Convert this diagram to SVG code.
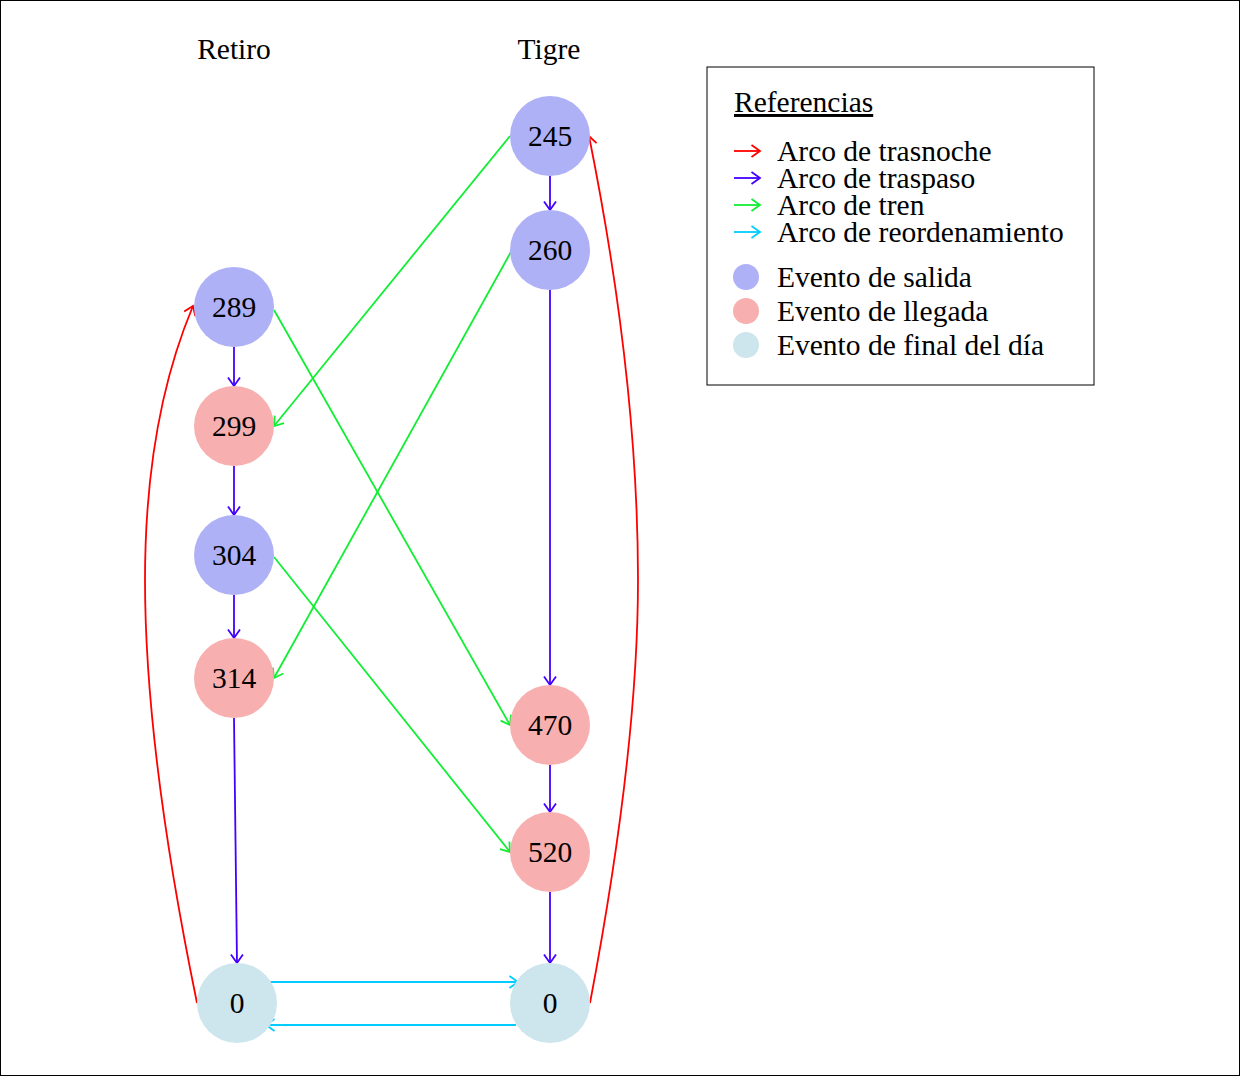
<svg xmlns="http://www.w3.org/2000/svg" width="1240" height="1076" viewBox="0 0 1240 1076">
<style>
text{font-family:"Liberation Serif","Times New Roman",serif;font-size:29.5px;fill:#000}
.n text{text-anchor:middle;dominant-baseline:central}
.sal{fill:#aeb1f6}.lle{fill:#f8afaf}.fin{fill:#cde5ec}
.e{fill:none;stroke-width:1.8}
.r{stroke:#ff0000}.b{stroke:#4400ff}.g{stroke:#11ee33}.c{stroke:#00ccff}
</style>
<defs>
<marker id="mr" markerUnits="userSpaceOnUse" markerWidth="20" markerHeight="20" refX="10" refY="10" orient="auto" overflow="visible"><path d="M1.5,4 L10,10 L1.5,16" fill="none" stroke="#ff0000" stroke-width="1.8"/></marker>
<marker id="mb" markerUnits="userSpaceOnUse" markerWidth="20" markerHeight="20" refX="10" refY="10" orient="auto" overflow="visible"><path d="M1.5,4 L10,10 L1.5,16" fill="none" stroke="#4400ff" stroke-width="1.8"/></marker>
<marker id="mg" markerUnits="userSpaceOnUse" markerWidth="20" markerHeight="20" refX="10" refY="10" orient="auto" overflow="visible"><path d="M1.5,4 L10,10 L1.5,16" fill="none" stroke="#11ee33" stroke-width="1.8"/></marker>
<marker id="mc" markerUnits="userSpaceOnUse" markerWidth="20" markerHeight="20" refX="10" refY="10" orient="auto" overflow="visible"><path d="M1.5,4 L10,10 L1.5,16" fill="none" stroke="#00ccff" stroke-width="1.8"/></marker>
</defs>
<rect x="0.5" y="0.5" width="1239" height="1075" fill="#fff" stroke="#000" stroke-width="1"/>
<text x="234" y="59" text-anchor="middle">Retiro</text>
<text x="549" y="59" text-anchor="middle">Tigre</text>
<g id="connectors">
<path class="e b" d="M550,176 L550,210" marker-end="url(#mb)"/>
<path class="e b" d="M234,347 L234,386" marker-end="url(#mb)"/>
<path class="e b" d="M234,466 L234,515" marker-end="url(#mb)"/>
<path class="e b" d="M234,595 L234,638" marker-end="url(#mb)"/>
<path class="e b" d="M234,718 L237,963" marker-end="url(#mb)"/>
<path class="e b" d="M550,290 L550,685" marker-end="url(#mb)"/>
<path class="e b" d="M550,765 L550,812" marker-end="url(#mb)"/>
<path class="e b" d="M550,892 L550,963" marker-end="url(#mb)"/>
<path class="e g" d="M510,136 L274,426" marker-end="url(#mg)"/>
<path class="e g" d="M512,250 L274,678" marker-end="url(#mg)"/>
<path class="e g" d="M274,310 L510,725" marker-end="url(#mg)"/>
<path class="e g" d="M274,557 L510,852" marker-end="url(#mg)"/>
<path class="e c" d="M268,982 L518,982" marker-end="url(#mc)"/>
<path class="e c" d="M516,1025 L266,1025" marker-end="url(#mc)"/>
<path class="e r" d="M197,1003 Q145,750 145,580 Q145,420 193,306" marker-end="url(#mr)"/>
<path class="e r" d="M590,1003 Q638,750 638,580 Q638,380 589,136" marker-end="url(#mr)"/>
</g>
<g id="n245" class="n"><circle class="sal" cx="550" cy="136" r="40"/><text x="550" y="136">245</text></g>
<g id="n260" class="n"><circle class="sal" cx="550" cy="250" r="40"/><text x="550" y="250">260</text></g>
<g id="n289" class="n"><circle class="sal" cx="234" cy="307" r="40"/><text x="234" y="307">289</text></g>
<g id="n299" class="n"><circle class="lle" cx="234" cy="426" r="40"/><text x="234" y="426">299</text></g>
<g id="n304" class="n"><circle class="sal" cx="234" cy="555" r="40"/><text x="234" y="555">304</text></g>
<g id="n314" class="n"><circle class="lle" cx="234" cy="678" r="40"/><text x="234" y="678">314</text></g>
<g id="n470" class="n"><circle class="lle" cx="550" cy="725" r="40"/><text x="550" y="725">470</text></g>
<g id="n520" class="n"><circle class="lle" cx="550" cy="852" r="40"/><text x="550" y="852">520</text></g>
<g id="n0L" class="n"><circle class="fin" cx="237" cy="1003" r="40"/><text x="237" y="1003">0</text></g>
<g id="n0R" class="n"><circle class="fin" cx="550" cy="1003" r="40"/><text x="550" y="1003">0</text></g>
<g id="legend">
<rect x="707" y="67" width="387" height="318" fill="#fff" stroke="#000" stroke-width="1"/>
<text x="734" y="112" text-decoration="underline">Referencias</text>
<path class="e r" d="M734,151 L760,151" marker-end="url(#mr)"/>
<path class="e b" d="M734,178 L760,178" marker-end="url(#mb)"/>
<path class="e g" d="M734,205 L760,205" marker-end="url(#mg)"/>
<path class="e c" d="M734,232 L760,232" marker-end="url(#mc)"/>
<text x="777" y="161">Arco de trasnoche</text>
<text x="777" y="188">Arco de traspaso</text>
<text x="777" y="215">Arco de tren</text>
<text x="777" y="242">Arco de reordenamiento</text>
<circle class="sal" cx="746" cy="277" r="13"/>
<circle class="lle" cx="746" cy="311" r="13"/>
<circle class="fin" cx="746" cy="345" r="13"/>
<text x="777" y="287">Evento de salida</text>
<text x="777" y="321">Evento de llegada</text>
<text x="777" y="355">Evento de final del día</text>
</g>
</svg>
